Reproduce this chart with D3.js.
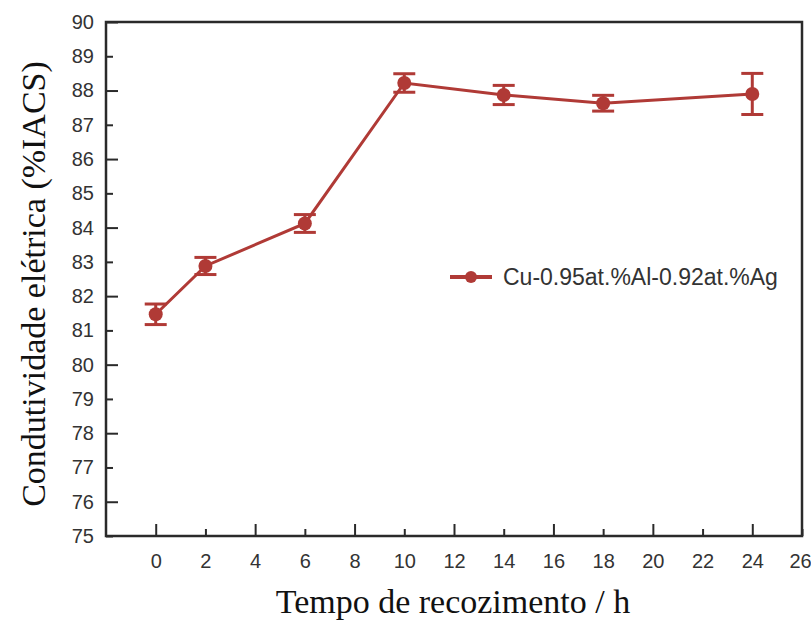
<!DOCTYPE html>
<html lang="pt">
<head>
  <meta charset="UTF-8">
  <title>Condutividade elétrica</title>
  <style>
    body { margin: 0; background: #fff; }
  </style>
</head>
<body>
    <script src="https://cdn.jsdelivr.net/npm/d3@7"></script>
    <script>
      const width = 811
      const height = 624

      // dados
      const tempo = [0, 2, 6, 10, 14, 18, 24]
      const condutividade = [81.47, 82.88, 84.12, 88.22, 87.87, 87.63, 87.9]
      const erro = [0.3, 0.25, 0.26, 0.27, 0.28, 0.23, 0.6]
      const xTicks = d3.range(0, 27, 2)
      const yTicks = d3.range(75, 91, 1)
      const serieNome = "Cu-0.95at.%Al-0.92at.%Ag"

      const cor = "#b03a36"
      const margin = {top: 22, right: 9, bottom: 88, left: 106}

      const svg = d3.select("body")
        .append("svg")
        .attr("width", width)
        .attr("height", height)

      const x = d3.scaleLinear()
        .domain([-2, 26])
        .range([margin.left, width - margin.right])

      const y = d3.scaleLinear()
        .domain([75, 90])
        .range([height - margin.bottom, margin.top])

      // caixa do gráfico
      svg.append("rect")
        .attr("x", x(-2))
        .attr("y", y(90))
        .attr("width", x(26) - x(-2))
        .attr("height", y(75) - y(90))
        .attr("fill", "none")
        .attr("stroke", "#2a2a2a")
        .attr("stroke-width", 2.5)

      // eixo x, ticks para dentro
      const gx = svg.append("g")
        .attr("transform", "translate(0," + y(75) + ")")
        .call(d3.axisBottom(x).tickValues(xTicks).tickSizeInner(0).tickSizeOuter(0).tickPadding(18))
      gx.select(".domain").remove()
      gx.selectAll(".tick line")
        .attr("y2", d => d % 4 == 0 ? -12 : -7)
        .attr("stroke", "#2a2a2a")
        .attr("stroke-width", 2)
      gx.selectAll(".tick text")
        .attr("font-family", "Liberation Sans, Arial, sans-serif")
        .attr("font-size", 20)
        .attr("fill", "#333")
        .attr("dx", d => d == 26 ? -2 : 0)

      // eixo y
      const gy = svg.append("g")
        .attr("transform", "translate(" + x(-2) + ",0)")
        .call(d3.axisLeft(y).tickValues(yTicks).tickSizeInner(0).tickSizeOuter(0).tickPadding(12))
      gy.select(".domain").remove()
      gy.selectAll(".tick line")
        .attr("x2", d => d % 2 == 0 ? 12 : 7)
        .attr("stroke", "#2a2a2a")
        .attr("stroke-width", 2)
      gy.selectAll(".tick text")
        .attr("font-family", "Liberation Sans, Arial, sans-serif")
        .attr("font-size", 20)
        .attr("fill", "#333")

      const dados = tempo.map((t, i) => ({t: t, v: condutividade[i], e: erro[i]}))

      // linha
      svg.append("path")
        .datum(dados)
        .attr("fill", "none")
        .attr("stroke", cor)
        .attr("stroke-width", 3)
        .attr("d", d3.line().x(d => x(d.t)).y(d => y(d.v)))

      // barras de erro
      const eb = svg.append("g")
        .attr("stroke", cor)
        .attr("stroke-width", 3)
        .selectAll("g")
        .data(dados)
        .enter()
        .append("g")
      eb.append("line")
        .attr("x1", d => x(d.t)).attr("x2", d => x(d.t))
        .attr("y1", d => y(d.v - d.e)).attr("y2", d => y(d.v + d.e))
      eb.append("line")
        .attr("x1", d => x(d.t) - 11).attr("x2", d => x(d.t) + 11)
        .attr("y1", d => y(d.v + d.e)).attr("y2", d => y(d.v + d.e))
      eb.append("line")
        .attr("x1", d => x(d.t) - 11).attr("x2", d => x(d.t) + 11)
        .attr("y1", d => y(d.v - d.e)).attr("y2", d => y(d.v - d.e))

      svg.append("g")
        .selectAll("circle")
        .data(dados)
        .enter()
        .append("circle")
        .attr("cx", d => x(d.t))
        .attr("cy", d => y(d.v))
        .attr("r", 7)
        .attr("fill", cor)

      // legenda
      const leg = svg.append("g").attr("transform", "translate(450,277)")
      leg.append("line")
        .attr("x1", 0).attr("x2", 42)
        .attr("stroke", cor).attr("stroke-width", 4)
      leg.append("circle").attr("cx", 21).attr("r", 6).attr("fill", cor)
      leg.append("text")
        .attr("x", 53)
        .attr("dy", "0.35em")
        .attr("font-family", "Liberation Sans, Arial, sans-serif")
        .attr("font-size", 23)
        .attr("fill", "#333")
        .text(serieNome)

      // títulos dos eixos
      svg.append("text")
        .attr("x", 453)
        .attr("y", 613)
        .attr("text-anchor", "middle")
        .attr("font-family", "Liberation Serif, Times New Roman, serif")
        .attr("font-size", 34)
        .attr("fill", "#111")
        .text("Tempo de recozimento / h")

      svg.append("text")
        .attr("transform", "translate(45,284) rotate(-90)")
        .attr("text-anchor", "middle")
        .attr("font-family", "Liberation Serif, Times New Roman, serif")
        .attr("font-size", 34)
        .attr("fill", "#111")
        .text("Condutividade elétrica (%IACS)")
    </script>
</body>
</html>
